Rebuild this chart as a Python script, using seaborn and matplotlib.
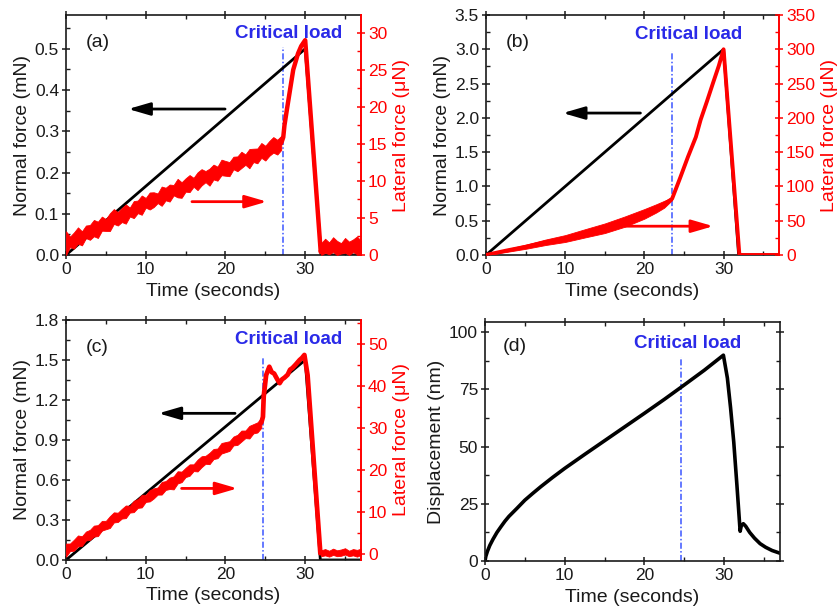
import matplotlib
matplotlib.use("Agg")
import matplotlib.pyplot as plt
from matplotlib.ticker import MultipleLocator
import seaborn as sns

# ---------------- panel (a) ----------------
a_time_normal = [0, 30, 32, 37]
a_normal = [0, 0.5, 0, 0]
# noisy loading stretch: lower / upper edge of the scatter band
a_noise_time = [0, 0.5, 1, 1.5, 2, 2.5, 3, 3.5, 4, 4.5, 5, 5.5, 6, 6.5, 7, 7.5, 8, 8.5, 9, 9.5,
                10, 10.5, 11, 11.5, 12, 12.5, 13, 13.5, 14, 14.5, 15, 15.5, 16, 16.5, 17, 17.5,
                18, 18.5, 19, 19.5, 20, 20.5, 21, 21.5, 22, 22.5, 23, 23.5, 24, 24.5, 25, 25.5,
                26, 26.5, 27]
a_noise_low = [0.0, 1.08, 0.85, 1.53, 1.3, 2.28, 2.05, 2.53, 2.3, 3.28, 3.25, 3.23, 4.2, 3.98,
               4.45, 4.23, 5.2, 4.98, 5.65, 5.43, 6.4, 6.14, 6.47, 7.01, 6.64, 7.38, 7.21, 8.05,
               7.78, 7.72, 8.55, 8.49, 9.22, 8.76, 9.39, 9.83, 9.36, 10.2, 10.03, 10.77, 10.7,
               10.64, 11.57, 11.31, 11.74, 12.18, 11.71, 12.55, 12.38, 13.12, 12.75, 13.39,
               13.82, 13.56, 14.19]
a_noise_high = [3.2, 2.48, 3.05, 3.73, 3.2, 3.98, 4.05, 4.73, 4.5, 5.18, 4.85, 5.63, 6.2, 5.78,
                6.35, 6.83, 6.4, 7.28, 7.35, 8.03, 7.7, 8.44, 8.47, 8.31, 9.24, 9.08, 9.51, 9.45,
                10.28, 9.82, 10.35, 10.79, 10.42, 11.16, 11.59, 11.33, 11.66, 12.2, 11.93, 12.87,
                12.7, 12.54, 13.27, 13.31, 13.94, 13.58, 14.31, 14.35, 14.38, 15.12, 14.75,
                15.39, 15.92, 15.56, 16.09]
# failure and unloading stretch
a_time_lateral = [27.0, 27.25, 27.4, 27.7, 28.1, 28.5, 29.1, 29.5, 30.0, 31.95, 32.1]
a_lateral = [15.1, 15.9, 17.5, 19.6, 22.3, 25.0, 27.2, 28.2, 29.0, 0.4, 1.0]
# noise after unloading
a_rest_time = [32, 32.5, 33, 33.5, 34, 34.5, 35, 35.5, 36, 36.5, 37]
a_rest_low = [0.0, 0.3, 0.1, 0.4, 0.0, 0.2, 0.3, 0.0, 0.4, 0.1, 0.2]
a_rest_high = [1.6, 2.2, 1.7, 2.4, 1.9, 1.6, 2.3, 1.8, 2.1, 2.5, 1.9]
a_critical = 27.25

# ---------------- panel (b) ----------------
b_time_normal = [0, 30, 31.9, 37]
b_normal = [0, 3.0, 0, 0]
b_time_lateral = [0, 2.5, 5, 7.5, 10, 12.5, 15, 17.5, 20, 21.5, 22.5, 23.5,
                  24.5, 25.5, 26.5, 27.1, 27.9, 28.7, 29.4, 30.0, 32.0, 37]
b_lateral = [0, 6.3, 12, 18.5, 24, 31.6, 39, 48.6, 60, 68, 74, 82,
             112, 143, 172, 197, 224, 252, 276, 300, 0, 0]
b_band_time = [0, 2.5, 5, 7.5, 10, 12.5, 15, 17.5, 20, 21.5, 22.5, 23.5]
b_band_low = [0, 4.3, 9, 14.5, 19, 25.6, 32, 41.1, 53, 62, 69, 80]
b_band_high = [1, 8.3, 15, 22.5, 29, 37.6, 46, 56.1, 67, 74, 79, 84]
b_critical = 23.5

# ---------------- panel (c) ----------------
c_time_normal = [0, 30, 31.9, 37]
c_normal = [0, 1.5, 0, 0]
c_noise_time = [0, 0.5, 1, 1.5, 2, 2.5, 3, 3.5, 4, 4.5, 5, 5.5, 6, 6.5, 7, 7.5, 8, 8.5, 9, 9.5,
                10, 10.5, 11, 11.5, 12, 12.5, 13, 13.5, 14, 14.5, 15, 15.5, 16, 16.5, 17, 17.5,
                18, 18.5, 19, 19.5, 20, 20.5, 21, 21.5, 22, 22.5, 23, 23.5, 24, 24.5]
c_noise_low = [-0.6, 0.71, 0.82, 1.83, 1.94, 3.25, 3.36, 4.17, 4.28, 5.59, 5.9, 6.21, 7.52, 7.63,
               8.44, 8.55, 9.86, 9.97, 10.98, 11.09, 12.4, 12.51, 13.22, 14.13, 14.14, 15.25,
               15.46, 15.37, 16.78, 17.09, 18.3, 18.61, 19.72, 19.63, 20.64, 21.45, 21.36, 22.57,
               22.78, 23.89, 24.2, 24.51, 25.82, 25.93, 26.74, 27.55, 27.46, 28.67, 28.88, 29.99]
c_noise_high = [2.5, 2.51, 3.42, 4.43, 4.24, 5.35, 5.76, 6.77, 6.88, 7.89, 7.9, 9.01, 9.92, 9.83,
                10.74, 11.55, 11.46, 12.67, 13.08, 14.09, 14.1, 15.21, 15.62, 15.83, 17.14, 17.35,
                18.16, 18.47, 19.68, 19.59, 20.5, 21.31, 21.32, 22.43, 23.24, 23.35, 24.06, 24.97,
                25.08, 26.39, 26.6, 26.81, 27.92, 28.33, 29.34, 29.35, 30.46, 30.87, 31.28, 32.39]
c_time_lateral = [24.5, 24.7, 24.8, 25.1, 25.5, 25.8, 26.1, 26.5, 26.8, 27.1, 27.4, 27.8, 28.1,
                  28.4, 28.8, 29.3, 29.6, 29.9, 30.3, 31.9, 32.05]
c_lateral = [31.2, 32.6, 37.5, 42.5, 44.5, 43.2, 42.9, 41.5, 40.6, 41.5, 41.9, 42.6, 43.8,
             44.2, 45.0, 46.1, 46.6, 47.3, 42.5, 0.2, 0.3]
c_rest_time = [32, 32.5, 33, 33.5, 34, 34.5, 35, 35.5, 36, 36.5, 37]
c_rest_low = [-0.5, -0.3, -0.6, -0.2, -0.5, -0.4, -0.1, -0.5, -0.3, -0.6, -0.2]
c_rest_high = [0.9, 1.2, 0.8, 1.3, 0.9, 1.1, 1.4, 0.8, 1.2, 1.0, 1.3]
c_critical = 24.7

# ---------------- panel (d) ----------------
d_time = [0, 0.1, 0.3, 0.6, 1.0, 1.5, 2.0, 2.5, 3.0, 4.0, 5.0, 6.0, 7.0, 8.5, 10.0, 12.5, 15.0,
          17.5, 20.0, 22.5, 25.0, 27.5, 29.9, 30.4, 30.8, 31.2, 31.6, 32.0, 32.15, 32.4, 32.7,
          33.2, 33.8, 34.5, 35.2, 36.0, 37.0]
d_disp = [0, 2.0, 4.2, 6.8, 9.5, 12.5, 15.0, 17.4, 19.5, 23.0, 26.6, 29.6, 32.5, 36.6, 40.5,
          46.6, 52.6, 58.6, 64.6, 70.7, 77.0, 83.4, 90.0, 80.0, 67.0, 52.0, 33.0, 13.0, 15.5,
          16.3, 15.2, 12.5, 10.0, 7.6, 6.0, 4.6, 3.4]
d_critical = 24.6

panel_labels = ["(a)", "(b)", "(c)", "(d)"]
time_label = "Time (seconds)"
normal_label = "Normal force (mN)"
lateral_label = "Lateral force (\u03bcN)"
disp_label = "Displacement (nm)"
critical_text = "Critical load"

RED = "#ff0000"
BLUE = "#2a2ae8"
LINE_BLUE = "#3b55ff"
INK = "#1a1a1a"

sns.set_theme(style="ticks")
plt.rcParams["font.family"] = ["Liberation Sans", "DejaVu Sans"]
plt.rcParams.update({
    "axes.linewidth": 1.2,
    "axes.edgecolor": INK,
    "axes.labelsize": 14,
    "xtick.labelsize": 12.5,
    "ytick.labelsize": 12.5,
    "xtick.color": INK,
    "ytick.color": INK,
    "axes.labelcolor": INK,
})

fig = plt.figure(figsize=(8.38, 6.12), dpi=100)
W, H = 838, 612


def add_axes(left, top, right, bottom):
    return fig.add_axes([left / W, 1 - bottom / H, (right - left) / W, (bottom - top) / H])


def style_ticks(ax, right_side):
    ax.tick_params(which="major", direction="inout", length=6, width=1.1, pad=2,
                   top=True, right=right_side)
    ax.tick_params(which="minor", direction="in", length=3, width=1.0,
                   top=True, right=right_side)
    ax.xaxis.set_major_locator(MultipleLocator(10))
    ax.xaxis.set_minor_locator(MultipleLocator(5))
    ax.set_xlim(0, 37)
    ax.set_xlabel(time_label, labelpad=4)


def add_critical(ax, x, top_frac, tx, ty):
    ax.axvline(x, ymin=0, ymax=top_frac, color=LINE_BLUE, lw=1.1,
               dashes=(4, 1.5, 1, 1.5), zorder=1)
    ax.text(tx, ty, critical_text, transform=ax.transAxes, ha="center", va="center",
            fontsize=13.5, fontweight="bold", color=BLUE)


def arrow(ax, tail, head, color):
    ax.annotate("", xy=head, xytext=tail,
                arrowprops=dict(arrowstyle="-|>,head_length=1.1,head_width=0.32",
                                color=color, lw=2.0, shrinkA=0, shrinkB=0),
                zorder=5)


def scatter_band(ax, t, lo, hi):
    """Solid band spanning the min..max of the readings at each time."""
    sns.lineplot(x=list(t) + list(t), y=list(lo) + list(hi), ax=ax, color=RED,
                 lw=0, errorbar=("pi", 100), err_kws={"alpha": 1.0, "lw": 0.6,
                                                       "edgecolor": RED})


def force_panel(box, label, t_n, n, n_lim, n_major, bands, t_l, lat, l_lim, l_major,
                crit, crit_top, crit_txt, black_arrow, red_arrow, trace_lw):
    ax = add_axes(*box)
    sns.lineplot(x=t_n, y=n, ax=ax, color="black", lw=2.0, sort=False, estimator=None)
    ax.set_ylim(*n_lim)
    ax.yaxis.set_major_locator(MultipleLocator(n_major))
    ax.yaxis.set_minor_locator(MultipleLocator(n_major / 2))
    ax.set_ylabel(normal_label, labelpad=3)
    style_ticks(ax, right_side=False)
    ax.spines["right"].set_visible(False)
    add_critical(ax, crit, crit_top, *crit_txt)
    arrow(ax, *black_arrow, "black")
    ax.text(0.068, 0.885, label, transform=ax.transAxes, ha="left", va="center",
            fontsize=14, color=INK)

    ax2 = ax.twinx()
    for bt, lo, hi in bands:
        scatter_band(ax2, bt, lo, hi)
    sns.lineplot(x=t_l, y=lat, ax=ax2, color=RED, lw=trace_lw, sort=False, estimator=None)
    ax2.set_ylim(*l_lim)
    ax2.set_xlim(0, 37)
    ax2.yaxis.set_major_locator(MultipleLocator(l_major))
    ax2.yaxis.set_minor_locator(MultipleLocator(l_major / 2))
    ax2.tick_params(axis="y", which="major", direction="inout", length=6, width=1.1,
                    pad=2, colors=RED, labelcolor=RED, labelsize=12.5)
    ax2.tick_params(axis="y", which="minor", direction="in", length=3, width=1.0, colors=RED)
    for side in ("left", "top", "bottom"):
        ax2.spines[side].set_visible(False)
    ax2.spines["right"].set_color(RED)
    ax2.spines["right"].set_linewidth(1.4)
    ax2.set_ylabel(lateral_label, color=RED, labelpad=4)
    ax2.set_xlabel("")
    arrow(ax2, *red_arrow, RED)
    return ax, ax2


force_panel((66, 15, 361, 255), panel_labels[0], a_time_normal, a_normal, (0, 0.582), 0.1,
            [(a_noise_time, a_noise_low, a_noise_high), (a_rest_time, a_rest_low, a_rest_high)],
            a_time_lateral, a_lateral, (0, 32.4), 5,
            a_critical, 0.868, (0.753, 0.925),
            ((19.95, 0.354), (7.8, 0.354)), ((15.8, 7.2), (25.2, 7.2)), 3.2)

force_panel((486, 15, 779, 255), panel_labels[1], b_time_normal, b_normal, (0, 3.5), 0.5,
            [(b_band_time, b_band_low, b_band_high)],
            b_time_lateral, b_lateral, (0, 350), 50,
            b_critical, 0.85, (0.69, 0.92),
            ((19.5, 2.07), (9.7, 2.07)), ((17.6, 42), (28.7, 42)), 2.8)

force_panel((66, 320, 361, 560), panel_labels[2], c_time_normal, c_normal, (0, 1.8), 0.3,
            [(c_noise_time, c_noise_low, c_noise_high), (c_rest_time, c_rest_low, c_rest_high)],
            c_time_lateral, c_lateral, (-1.4, 55.6), 10,
            c_critical, 0.847, (0.753, 0.92),
            ((21.2, 1.10), (11.6, 1.10)), ((14.5, 15.6), (21.5, 15.6)), 3.4)

# displacement panel
axd = add_axes(485, 322, 780, 561)
sns.lineplot(x=d_time, y=d_disp, ax=axd, color="black", lw=2.6, sort=False, estimator=None)
axd.set_ylim(0, 104.5)
axd.yaxis.set_major_locator(MultipleLocator(25))
axd.yaxis.set_minor_locator(MultipleLocator(12.5))
axd.set_ylabel(disp_label, labelpad=3)
style_ticks(axd, right_side=True)
add_critical(axd, d_critical, 0.855, 0.686, 0.912)
axd.text(0.061, 0.897, panel_labels[3], transform=axd.transAxes, ha="left", va="center",
         fontsize=14, color=INK)

fig.savefig("out.png", dpi=100)
